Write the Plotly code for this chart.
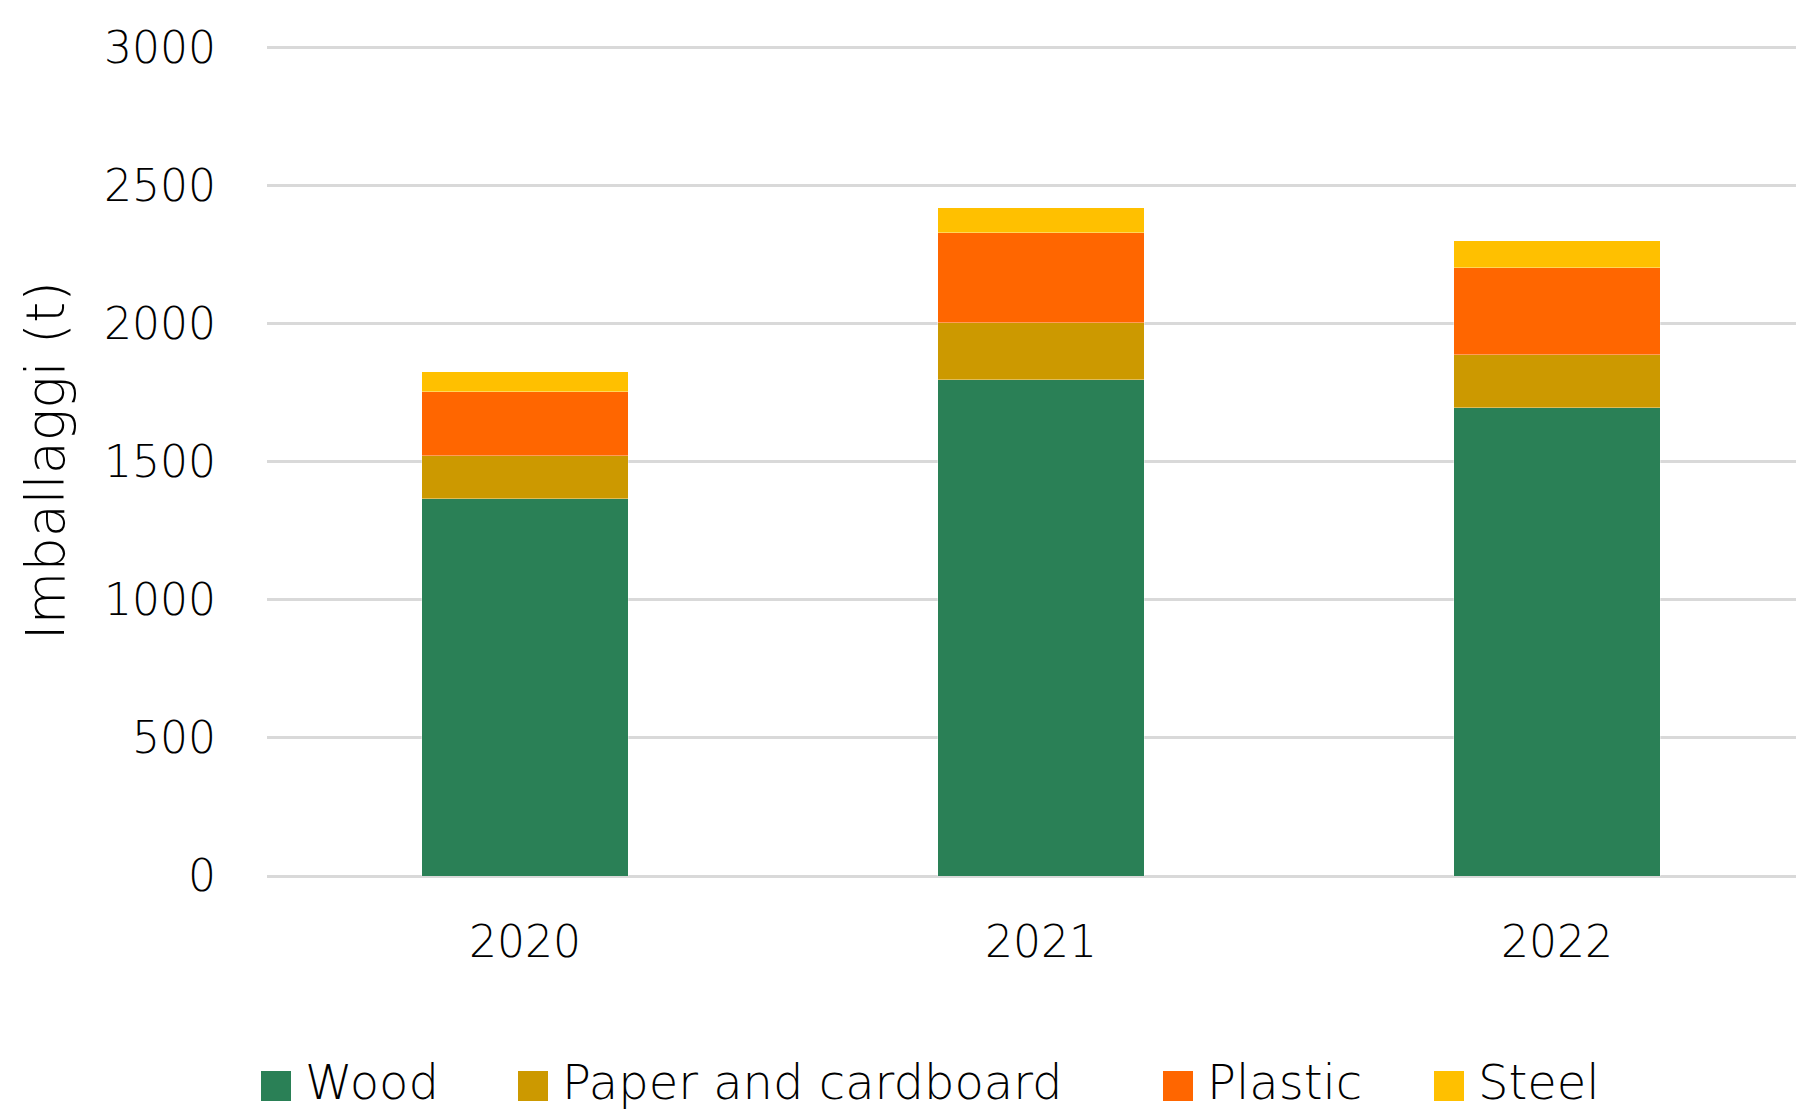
import plotly.graph_objects as go

years = ["2020", "2021", "2022"]
wood = [1367, 1797, 1696]
paper = [155, 207, 192]
plastic = [232, 326, 315]
steel = [72, 90, 98]

series = [
    ("Wood", wood, "#2A8056"),
    ("Paper and cardboard", paper, "#CC9900"),
    ("Plastic", plastic, "#FF6600"),
    ("Steel", steel, "#FFC000"),
]

FONT = "DejaVu Sans"
W, H = 1796, 1112
ML, MR, MT, MB = 267, 0, 45, 236

fig = go.Figure()
for name, vals, col in series:
    fig.add_trace(go.Bar(
        x=years, y=vals, name=name, showlegend=False,
        marker=dict(color=col, line=dict(color="rgba(255,255,255,0.35)", width=1)),
    ))

# manual legend (large square swatches)
legend_x_px = [261, 518, 1163, 1434]
sq = 30
cy = 1082
for (name, vals, col), lx in zip(series, legend_x_px):
    fig.add_shape(type="rect", xref="paper", yref="paper",
                  x0=(lx - ML) / (W - ML - MR), x1=(lx + sq - ML) / (W - ML - MR),
                  y0=(H - MB - (cy + 4 + sq / 2)) / (H - MT - MB),
                  y1=(H - MB - (cy + 4 - sq / 2)) / (H - MT - MB),
                  fillcolor=col, line=dict(width=0))
    fig.add_annotation(xref="paper", yref="paper",
                       x=(lx + 42 - ML) / (W - ML - MR),
                       y=(H - MB - cy) / (H - MT - MB),
                       xanchor="left", yanchor="middle", showarrow=False,
                       text=name, font=dict(size=48, family=FONT, weight=200, color="#000"))

fig.update_layout(
    width=W, height=H,
    barmode="stack", bargap=0.6,
    plot_bgcolor="white", paper_bgcolor="white",
    margin=dict(l=ML, r=MR, t=MT, b=MB, autoexpand=False),
    font=dict(family=FONT, color="#000000", size=44, weight=200),
    showlegend=False,
    xaxis=dict(
        type="category", range=[-0.5, 2.463], showgrid=False, zeroline=False,
        showline=False, ticks="", tickfont=dict(size=44, family=FONT, weight=200),
        ticklabelstandoff=36,
    ),
    yaxis=dict(
        range=[0, 3010], tickvals=[0, 500, 1000, 1500, 2000, 2500, 3000],
        showgrid=True, gridcolor="#D9D9D9", gridwidth=3,
        zeroline=True, zerolinecolor="#D9D9D9", zerolinewidth=3, showline=False,
        ticks="", tickfont=dict(size=44, family=FONT, weight=200), ticklabelstandoff=50,
        title=dict(text="Imballaggi (t)", font=dict(size=54, family=FONT, weight=200), standoff=22),
    ),
)

fig.write_html("out.html")
